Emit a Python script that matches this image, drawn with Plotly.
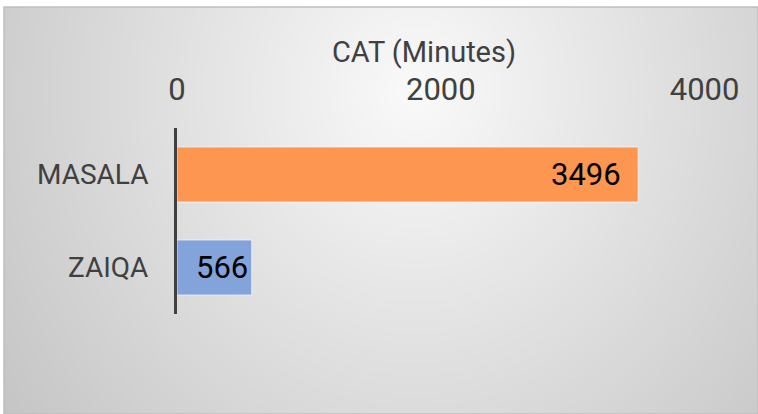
import base64, struct, zlib
import numpy as np
import plotly.graph_objects as go

# ---- data ----
categories = ["MASALA", "ZAIQA"]
values = [3496, 566]
bar_colors = ["#FC9650", "#83A3DB"]
tick_vals = [0, 2000, 4000]
tick_text = ["0", "2000", "4000"]
title_text = "CAT (Minutes)"
label_shift = [-15, -2]  # style: label offset from bar end (px)

W, H = 758, 414

# ---- radial gradient background as PNG (style only) ----
def make_png(arr):
    h, w = arr.shape
    raw = b"".join(b"\x00" + arr[r].tobytes() for r in range(h))
    def chunk(t, d):
        c = struct.pack(">I", len(d)) + t + d
        return c + struct.pack(">I", zlib.crc32(t + d) & 0xffffffff)
    ihdr = struct.pack(">IIBBBBB", w, h, 8, 0, 0, 0, 0)
    return b"\x89PNG\r\n\x1a\n" + chunk(b"IHDR", ihdr) + chunk(b"IDAT", zlib.compress(raw, 9)) + chunk(b"IEND", b"")

x0, y0 = 4, 7
gw, gh = W - x0, H - y0
yy, xx = np.mgrid[y0:H, x0:W].astype(float)
d = np.sqrt(((xx - 415) * 1.1) ** 2 + (yy - 90) ** 2)
v = np.clip(250 - 0.095 * d, 185, 250).astype(np.uint8)
png = make_png(v)
src = "data:image/png;base64," + base64.b64encode(png).decode()

FONT = "Roboto, Liberation Sans, sans-serif"

fig = go.Figure()
fig.add_trace(go.Bar(
    y=categories, x=values, orientation="h",
    marker=dict(color=bar_colors, line=dict(color="rgba(255,255,255,0.6)", width=1)),
    width=0.59, hoverinfo="x+y",
))
for cat, val, sh in zip(categories, values, label_shift):
    fig.add_annotation(x=val, y=cat, text=str(val), showarrow=False, xanchor="right",
                       yanchor="middle", xshift=sh,
                       font=dict(family=FONT, size=31, color="#000000"))

fig.update_layout(
    width=W, height=H,
    margin=dict(l=0, r=0, t=0, b=0, autoexpand=False),
    paper_bgcolor="#ffffff", plot_bgcolor="rgba(0,0,0,0)",
    showlegend=False,
    title=dict(text=title_text, x=424 / W, y=1 - 52 / H, xanchor="center", yanchor="middle",
               font=dict(family=FONT, size=29, color="#404040")),
    images=[dict(source=src, xref="paper", yref="paper", x=x0 / W, y=1 - y0 / H,
                 sizex=gw / W, sizey=gh / H, sizing="stretch", xanchor="left", yanchor="top",
                 layer="below")],
    shapes=[dict(type="rect", xref="paper", yref="paper", x0=x0 / W, x1=1.0, y0=0, y1=1 - y0 / H,
                 line=dict(color="#BFBFBF", width=1.5), layer="below")],
    xaxis=dict(domain=[177 / W, 704.6 / W], range=[0, 4000], side="top", automargin=False,
               tickvals=tick_vals, ticktext=tick_text, showgrid=False, zeroline=False,
               showline=False, ticks="", ticklabelstandoff=21,
               tickfont=dict(family=FONT, size=31, color="#404040")),
    yaxis=dict(domain=[1 - 314 / H, 1 - 128 / H], categoryorder="array", categoryarray=categories,
               autorange="reversed", showgrid=False, zeroline=False, automargin=False,
               showline=True, linecolor="#404040", linewidth=3, ticks="", ticklabelstandoff=20,
               tickfont=dict(family=FONT, size=28, color="#404040")),
)
fig.write_html("out.html", config={"displayModeBar": False},
               post_script="document.body.style.margin='0';document.body.style.overflow='hidden';")
